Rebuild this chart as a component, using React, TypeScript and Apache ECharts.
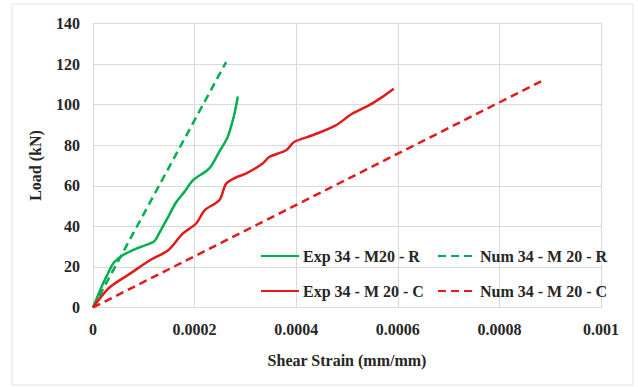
import React, { useEffect, useRef } from "react";
import * as echarts from "echarts";

const expRStrain = [0, 0.00001, 0.00002, 0.00003, 0.00004, 0.00006, 0.00009, 0.00012, 0.00013, 0.000148, 0.000164, 0.00018, 0.000197, 0.000229, 0.000249, 0.000265, 0.000278, 0.000285];
const expRLoad = [0, 6, 12, 17, 21.8, 26, 29.5, 32.5, 36.5, 44.7, 52, 57, 62.8, 68.6, 77, 84, 95, 104];

const numRStrain = [0, 0.000262];
const numRLoad = [0, 121];

const expCStrain = [0, 0.000015, 0.000033, 0.000073, 0.000112, 0.000148, 0.000177, 0.000203, 0.00022, 0.000249, 0.000262, 0.000282, 0.000301, 0.000334, 0.000347, 0.00038, 0.000396, 0.000432, 0.000478, 0.00051, 0.000543, 0.000569, 0.000592];
const expCLoad = [0, 5, 10, 16.7, 23.3, 28.2, 36.5, 41.4, 48, 53, 61, 64.2, 66, 71, 74.2, 77.5, 81.6, 84.9, 89.8, 95.5, 99.6, 103.7, 107.8];

const numCStrain = [0, 0.000883];
const numCLoad = [0, 111.6];

const seriesNames = ["Exp 34 - M20 - R", "Num 34 - M 20 - R", "Exp 34 - M 20 - C", "Num 34 - M 20 - C"];
const xTicks = { min: 0, max: 0.001, interval: 0.0002 };
const yTicks = { min: 0, max: 140, interval: 20 };

const GREEN = "#00b050";
const RED = "#e01b1b";
const FONT = "'Liberation Serif', 'Times New Roman', serif";

const zip = (a: number[], b: number[]) => a.map((v, i) => [v, b[i]]);

export default function App() {
  const ref = useRef<HTMLDivElement>(null);
  useEffect(() => {
    if (!ref.current) return;
    const chart = echarts.init(ref.current, undefined, { renderer: "svg" });
    const textStyle = { fontFamily: FONT, fontWeight: "bold" as const, fontSize: 16, color: "#262626" };
    const legendBase = {
      itemWidth: 38,
      itemHeight: 10,
      itemGap: 4,
      itemStyle: { opacity: 0 },
      textStyle: { ...textStyle, padding: [0, 0, 0, -1] },
      padding: 0,
    };
    chart.setOption({
      animation: false,
      backgroundColor: "#ffffff",
      graphic: [
        {
          type: "rect",
          shape: { x: 12, y: 4, width: 621, height: 381 },
          style: { fill: "none", stroke: "#e3e3e3", lineWidth: 1 },
          silent: true,
        },
      ],
      grid: { left: 93, right: 37, top: 23.5, bottom: 79.5, containLabel: false },
      xAxis: {
        type: "value",
        min: xTicks.min,
        max: xTicks.max,
        interval: xTicks.interval,
        name: "Shear Strain (mm/mm)",
        nameLocation: "middle",
        nameGap: 45,
        nameTextStyle: textStyle,
        axisLine: { show: true, lineStyle: { color: "#d9d9d9" } },
        axisTick: { show: false },
        splitLine: { show: true, lineStyle: { color: "#d9d9d9", width: 1 } },
        axisLabel: {
          ...textStyle,
          margin: 14,
          formatter: (v: number) => (v === 0 ? "0" : String(parseFloat(v.toFixed(4)))),
        },
      },
      yAxis: {
        type: "value",
        min: yTicks.min,
        max: yTicks.max,
        interval: yTicks.interval,
        name: "Load (kN)",
        nameLocation: "middle",
        nameGap: 50,
        nameTextStyle: textStyle,
        axisLine: { show: true, lineStyle: { color: "#d9d9d9" } },
        axisTick: { show: false },
        splitLine: { show: true, lineStyle: { color: "#d9d9d9", width: 1 } },
        axisLabel: { ...textStyle, margin: 13 },
      },
      legend: [
        { ...legendBase, left: 260, top: 248, data: [seriesNames[0]] },
        { ...legendBase, left: 437, top: 248, data: [seriesNames[1]] },
        { ...legendBase, left: 260, top: 283, data: [seriesNames[2]] },
        { ...legendBase, left: 437, top: 283, data: [seriesNames[3]] },
      ],
      series: [
        {
          name: seriesNames[0],
          type: "line",
          data: zip(expRStrain, expRLoad),
          symbol: "none",
          smooth: 0.3,
          lineStyle: { color: GREEN, width: 2.5 },
          itemStyle: { color: GREEN },
        },
        {
          name: seriesNames[1],
          type: "line",
          data: zip(numRStrain, numRLoad),
          symbol: "none",
          lineStyle: { color: GREEN, width: 2.5, type: [8, 5] },
          itemStyle: { color: GREEN },
        },
        {
          name: seriesNames[2],
          type: "line",
          data: zip(expCStrain, expCLoad),
          symbol: "none",
          smooth: 0.3,
          lineStyle: { color: RED, width: 2.5 },
          itemStyle: { color: RED },
        },
        {
          name: seriesNames[3],
          type: "line",
          data: zip(numCStrain, numCLoad),
          symbol: "none",
          lineStyle: { color: RED, width: 2.5, type: [8, 5] },
          itemStyle: { color: RED },
        },
      ],
    });
    return () => chart.dispose();
  }, []);
  return (
    <div
      ref={ref}
      style={{ position: "fixed", left: 0, top: 0, width: 638, height: 387 }}
    />
  );
}
